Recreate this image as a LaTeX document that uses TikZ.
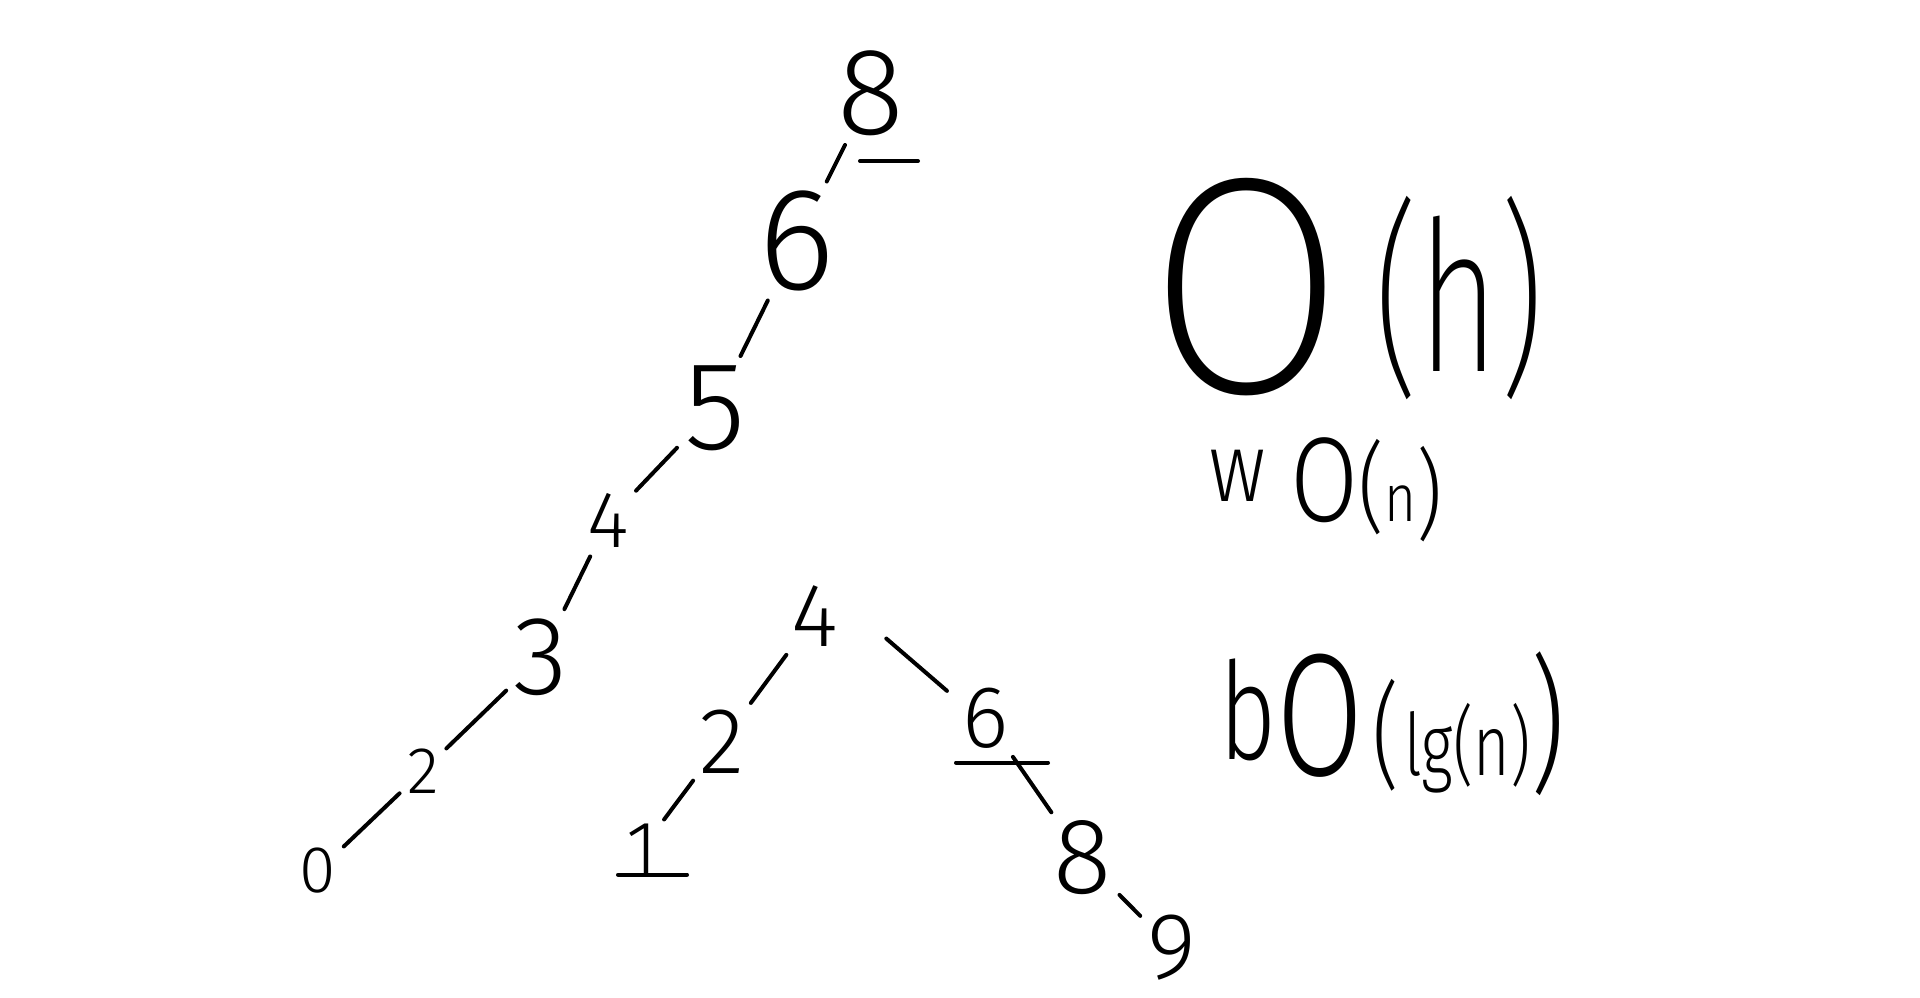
\documentclass[tikz,border=0pt]{standalone}
\usepackage{fontspec}
\setmainfont{Fira Sans}
\IfFontExistsTF{Fira Sans Light}{\newfontfamily\lightf{Fira Sans Light}}{%
  \IfFontExistsTF{Open Sans Light}{\newfontfamily\lightf{Open Sans Light}}{\newfontfamily\lightf{Fira Sans}}}
\IfFontExistsTF{Fira Sans ExtraLight}{\newfontfamily\thinf{Fira Sans ExtraLight}}{%
  \IfFontExistsTF{Fira Sans Thin}{\newfontfamily\thinf{Fira Sans Thin}}{\let\thinf\lightf}}
\usepackage{graphicx}

\begin{document}
\begin{tikzpicture}[
  x=0.5pt, y=-0.5pt,
  dig/.style={inner sep=0pt, font=\lightf\fontsize{#1}{#1}\selectfont},
  lnk/.style={line width=2pt, line cap=round, shorten <=5pt, shorten >=5pt},
  uline/.style={line width=2pt, line cap=round}
]
\useasboundingbox (0,0) rectangle (1920,997);
% left chain
\node[dig=62] (t8) at (871,93) {8};
\node[dig=73] (t6) at (797,241) {6};
\node[dig=63] (t5) at (715,408) {5};
\node[dig=40] (t4) at (608,520) {4};
\node[dig=56] (t3) at (541,657) {3};
\node[dig=33] (t2) at (423,771) {2};
\node[dig=33] (t0) at (318,871) {0};
% small tree
\node[dig=45] (r4) at (815,616) {4};
\node[dig=47] (r2) at (722,742) {2};
\node[dig=38] (r1) at (642,849) {1};
\node[dig=44] (r6) at (986,718) {6};
\node[dig=54] (r8) at (1083,858) {8};
\node[dig=47] (r9) at (1172,948) {9};
% bounds
\node[inner sep=0pt, font=\thinf] (oh) at (1346,289) {\resizebox*{198pt}{111pt}{\scalebox{1.4}[1]{\fontsize{150}{150}\selectfont O}\hspace{22pt}\raisebox{10pt}{\fontsize{102}{102}\selectfont (h)}}};
\node[inner sep=0pt, font=\lightf] (ow) at (1326,490) {\resizebox*{117pt}{52pt}{\raisebox{9pt}{\fontsize{44}{44}\selectfont w}\hspace{14pt}{\fontsize{54}{54}\selectfont O}{\fontsize{44}{44}\selectfont (}{\fontsize{30}{30}\selectfont n}\raisebox{-3pt}{\fontsize{44}{44}\selectfont )}}};
\node[inner sep=0pt, font=\lightf] (ob) at (1392,724) {\resizebox*{173pt}{72pt}{\raisebox{8pt}{\fontsize{66}{66}\selectfont b}{\fontsize{85}{85}\selectfont O}\hspace{6pt}{\fontsize{56}{56}\selectfont (}\hspace{3pt}{\fontsize{42}{42}\selectfont lg(n)}{\fontsize{72}{72}\selectfont )}}};
\draw[lnk] (t8) -- (t6);
\draw[lnk] (t6) -- (t5);
\draw[lnk] (t5) -- (t4);
\draw[lnk] (t4) -- (t3);
\draw[lnk] (t3) -- (t2);
\draw[lnk] (t2) -- (t0);
\draw[lnk] (r4) -- (r2);
\draw[lnk] (r2) -- (r1);
\draw[lnk] ([shift={(40,16)}]r4.east) -- ([shift={(-8,10)}]r6.north west);
\draw[lnk] (r6) -- (r8);
\draw[lnk] (r8) -- (r9);
\draw[uline] ([shift={(-11,25)}]t8.south) -- ++(58,0);
\draw[uline] ([shift={(-30,14)}]r6.south) -- ++(92,0);
\draw[uline] ([shift={(-24,0)}]r1.south) -- ++(69,0);
\end{tikzpicture}
\end{document}
